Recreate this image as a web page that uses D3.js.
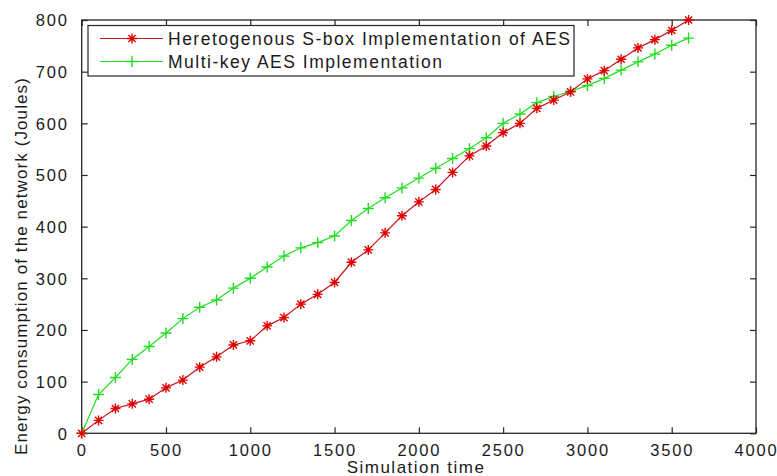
<!DOCTYPE html>
<html><head><meta charset="utf-8">
<script src="https://cdn.jsdelivr.net/npm/d3@7/dist/d3.min.js"></script>
<style>body{margin:0;background:#fff}svg{display:block}text{font-family:"Liberation Sans",Arial,sans-serif;fill:#1a1a1a}</style>
</head><body><svg id="c" width="777" height="476"></svg>
<script>
const times = d3.range(0, 3601, 100);
const heteroValues = [0,25,48,57,66,88,103,128,148,171,179,208,224,250,269,292,331,355,388,421,448,472,505,537,556,582,600,629,645,661,686,702,724,746,762,780,800];
const multiKeyValues = [0,75,108,143,168,194,222,244,258,281,300,322,343,359,369,382,412,435,456,475,494,513,532,551,572,600,618,640,652,662,673,687,703,719,734,751,765];
const seriesNames = ["Heretogenous S-box Implementation of AES", "Multi-key AES Implementation"];
const xTicks = [0,500,1000,1500,2000,2500,3000,3500,4000];
const yTicks = [0,100,200,300,400,500,600,700,800];
const xTitle = "Simulation time";
const yTitle = "Energy consumption of the network (Joules)";

const svg = d3.select("#c");
const L = 81.7, R = 756, T = 20, B = 433.3;
const x = d3.scaleLinear().domain([0,4000]).range([L,R]);
const y = d3.scaleLinear().domain([0,800]).range([B,T]);
const axisCol = "#262626";
const red = "#e00000", green = "#22dd22";

// Axes (ticks inward)
const tl = 6;
const gx = svg.append("g").attr("transform",`translate(0,${B})`)
  .call(d3.axisBottom(x).tickValues(xTicks).tickSize(-tl).tickPadding(11).tickFormat(d3.format("d")));
const gxt = svg.append("g").attr("transform",`translate(0,${T})`)
  .call(d3.axisTop(x).tickValues(xTicks).tickSize(-tl).tickFormat(""));
const gy = svg.append("g").attr("transform",`translate(${L},0)`)
  .call(d3.axisLeft(y).tickValues(yTicks).tickSize(-tl).tickPadding(13).tickFormat(d3.format("d")));
const gyr = svg.append("g").attr("transform",`translate(${R},0)`)
  .call(d3.axisRight(y).tickValues(yTicks).tickSize(-tl).tickFormat(""));
[gx,gxt,gy,gyr].forEach(g=>{
  g.select(".domain").remove();
  g.selectAll(".tick line").attr("stroke",axisCol).attr("stroke-width",1.2);
  g.selectAll(".tick text").attr("font-size",16.5).attr("letter-spacing","1.8px")
   .attr("fill","#1a1a1a").attr("font-family",'"Liberation Sans",Arial,sans-serif');
});
gy.selectAll(".tick text").attr("dy","0.36em");
svg.append("rect").attr("x",L).attr("y",T).attr("width",R-L).attr("height",B-T)
  .attr("fill","none").attr("stroke",axisCol).attr("stroke-width",1.3);

// Titles
svg.append("text").attr("x",416).attr("y",473).attr("text-anchor","middle")
  .attr("font-size",17).attr("letter-spacing","1.5px").text(xTitle);
svg.append("text").attr("transform","translate(27,266) rotate(-90)").attr("text-anchor","middle")
  .attr("font-size",17).attr("letter-spacing","1.1px").text(yTitle);

// Markers
function star(g, cx, cy, col, s){
  g.append("path").attr("d",`M${cx-s},${cy}H${cx+s}M${cx},${cy-s}V${cy+s}M${cx-s*0.72},${cy-s*0.72}L${cx+s*0.72},${cy+s*0.72}M${cx-s*0.72},${cy+s*0.72}L${cx+s*0.72},${cy-s*0.72}`)
   .attr("stroke",col).attr("stroke-width",1.4).attr("fill","none");
}
function plus(g, cx, cy, col, s){
  g.append("path").attr("d",`M${cx-s},${cy}H${cx+s}M${cx},${cy-s}V${cy+s}`)
   .attr("stroke",col).attr("stroke-width",1.4).attr("fill","none");
}

const line = d3.line().x(d=>x(d[0])).y(d=>y(d[1]));
const redData = times.map((t,i)=>[t,heteroValues[i]]);
const greenData = times.map((t,i)=>[t,multiKeyValues[i]]);

const gG = svg.append("g");
gG.append("path").datum(greenData).attr("d",line).attr("fill","none").attr("stroke",green).attr("stroke-width",1.2);
greenData.forEach(d=>plus(gG,x(d[0]),y(d[1]),green,5.5));
const gR = svg.append("g");
gR.append("path").datum(redData).attr("d",line).attr("fill","none").attr("stroke","#c8101a").attr("stroke-width",1.2);
redData.forEach(d=>star(gR,x(d[0]),y(d[1]),red,5));

// Legend
const lg = svg.append("g");
lg.append("rect").attr("x",88).attr("y",25.5).attr("width",486).attr("height",50.5)
  .attr("fill","#fff").attr("stroke",axisCol).attr("stroke-width",1.2);
const rows = [{name:seriesNames[0],col:red,lc:"#c8101a",m:star,yy:38.5},{name:seriesNames[1],col:green,lc:green,m:plus,yy:61.5}];
rows.forEach(r=>{
  lg.append("line").attr("x1",100).attr("x2",163).attr("y1",r.yy).attr("y2",r.yy).attr("stroke",r.lc).attr("stroke-width",1.2);
  r.m(lg,132,r.yy,r.col,r.m===star?5:5.5);
  lg.append("text").attr("x",168).attr("y",r.yy+6.2).attr("font-size",17.5).attr("letter-spacing","1.5px").text(r.name);
});
</script></body></html>
